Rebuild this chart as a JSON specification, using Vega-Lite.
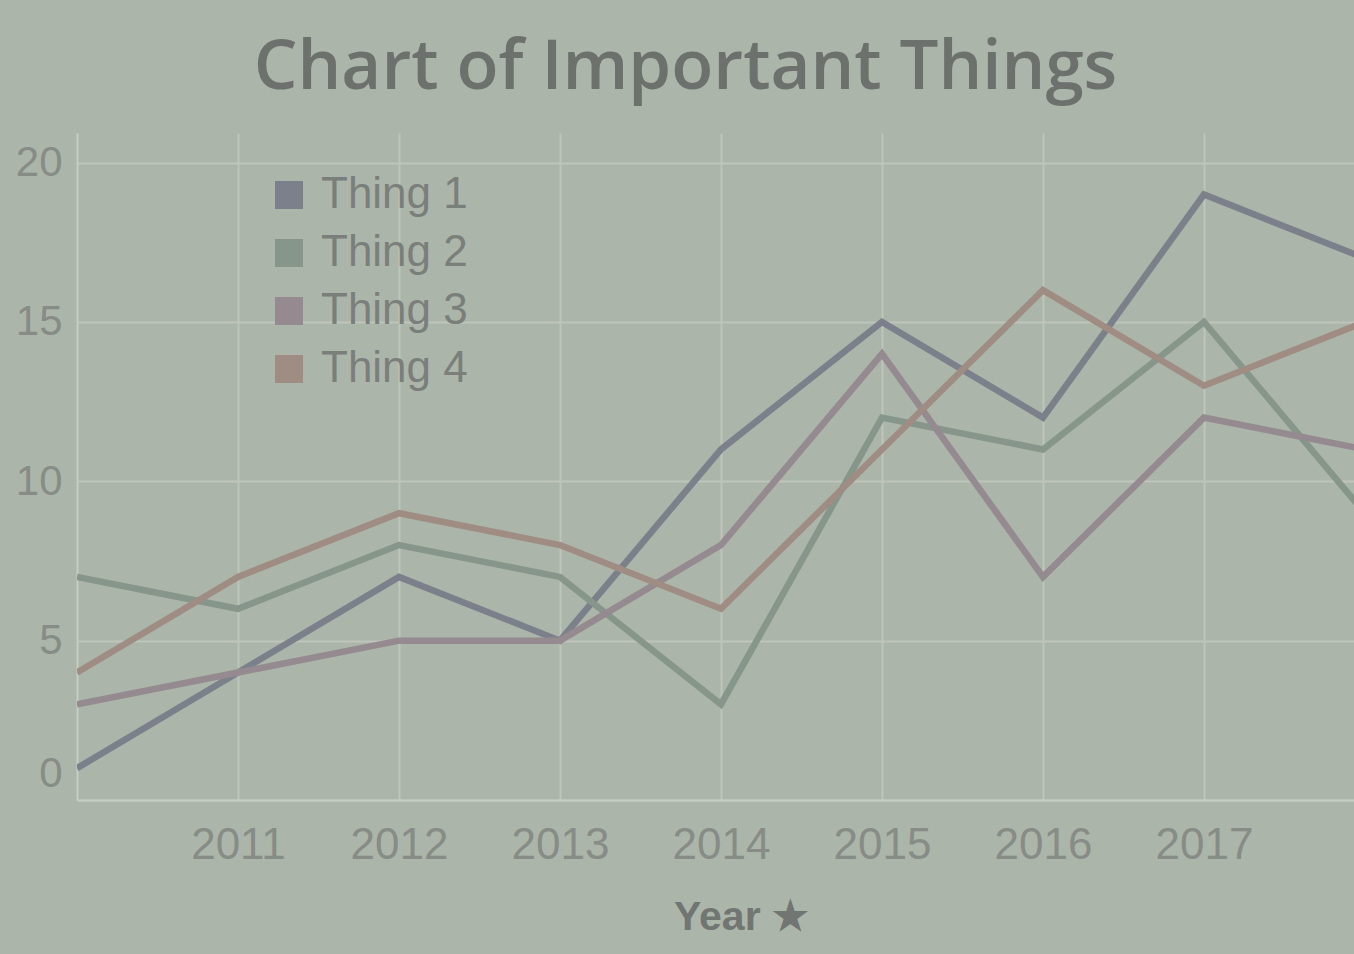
{
  "$schema": "https://vega.github.io/schema/vega-lite/v6.json",
  "width": 1277,
  "height": 667,
  "autosize": {"type": "none"},
  "padding": {"left": 77, "top": 133, "right": 0, "bottom": 154},
  "background": "#acb5a9",
  "title": {
    "text": "Chart of Important Things",
    "font": "Open Sans",
    "fontWeight": 600,
    "fontSize": 69,
    "color": "#6d716d",
    "anchor": "middle",
    "frame": "group",
    "dx": -30,
    "offset": 30
  },
  "data": {
    "values": [
      {"year": 2010, "series": "Thing 1", "value": 1},
      {"year": 2011, "series": "Thing 1", "value": 4},
      {"year": 2012, "series": "Thing 1", "value": 7},
      {"year": 2013, "series": "Thing 1", "value": 5},
      {"year": 2014, "series": "Thing 1", "value": 11},
      {"year": 2015, "series": "Thing 1", "value": 15},
      {"year": 2016, "series": "Thing 1", "value": 12},
      {"year": 2017, "series": "Thing 1", "value": 19},
      {"year": 2018, "series": "Thing 1", "value": 17},
      {"year": 2010, "series": "Thing 2", "value": 7},
      {"year": 2011, "series": "Thing 2", "value": 6},
      {"year": 2012, "series": "Thing 2", "value": 8},
      {"year": 2013, "series": "Thing 2", "value": 7},
      {"year": 2014, "series": "Thing 2", "value": 3},
      {"year": 2015, "series": "Thing 2", "value": 12},
      {"year": 2016, "series": "Thing 2", "value": 11},
      {"year": 2017, "series": "Thing 2", "value": 15},
      {"year": 2018, "series": "Thing 2", "value": 9},
      {"year": 2010, "series": "Thing 3", "value": 3},
      {"year": 2011, "series": "Thing 3", "value": 4},
      {"year": 2012, "series": "Thing 3", "value": 5},
      {"year": 2013, "series": "Thing 3", "value": 5},
      {"year": 2014, "series": "Thing 3", "value": 8},
      {"year": 2015, "series": "Thing 3", "value": 14},
      {"year": 2016, "series": "Thing 3", "value": 7},
      {"year": 2017, "series": "Thing 3", "value": 12},
      {"year": 2018, "series": "Thing 3", "value": 11},
      {"year": 2010, "series": "Thing 4", "value": 4},
      {"year": 2011, "series": "Thing 4", "value": 7},
      {"year": 2012, "series": "Thing 4", "value": 9},
      {"year": 2013, "series": "Thing 4", "value": 8},
      {"year": 2014, "series": "Thing 4", "value": 6},
      {"year": 2015, "series": "Thing 4", "value": 11},
      {"year": 2016, "series": "Thing 4", "value": 16},
      {"year": 2017, "series": "Thing 4", "value": 13},
      {"year": 2018, "series": "Thing 4", "value": 15}
    ]
  },
  "mark": {"type": "line", "strokeWidth": 6.5, "clip": true},
  "encoding": {
    "x": {
      "field": "year",
      "type": "quantitative",
      "scale": {"domain": [2010, 2017.932], "nice": false, "zero": false},
      "axis": {
        "title": "Year ★",
        "values": [2011, 2012, 2013, 2014, 2015, 2016, 2017],
        "format": "d",
        "grid": true,
        "gridColor": "#bec6bb",
        "gridWidth": 2,
        "domain": true,
        "domainColor": "#c6cdc3",
        "domainWidth": 2,
        "ticks": false,
        "labelFont": "Liberation Sans",
        "labelFontSize": 44,
        "labelColor": "#878c86",
        "labelPadding": 23,
        "titleFont": "Liberation Sans",
        "titleFontSize": 41,
        "titleFontWeight": "bold",
        "titleColor": "#727672",
        "titlePadding": 30,
        "titleX": 664
      }
    },
    "y": {
      "field": "value",
      "type": "quantitative",
      "scale": {"domain": [0, 20.93], "nice": false},
      "axis": {
        "title": null,
        "values": [0, 5, 10, 15, 20],
        "grid": true,
        "gridColor": "#bec6bb",
        "gridWidth": 2,
        "domain": true,
        "domainColor": "#c6cdc3",
        "domainWidth": 2,
        "ticks": false,
        "labelFont": "Liberation Sans",
        "labelFontSize": 42,
        "labelColor": "#878c86",
        "labelPadding": 15,
        "labelOffset": {"condition": {"test": "datum.value === 0", "value": -27}, "value": 0}
      }
    },
    "color": {
      "field": "series",
      "type": "nominal",
      "scale": {
        "domain": ["Thing 1", "Thing 2", "Thing 3", "Thing 4"],
        "range": ["#7b808a", "#86968a", "#948a8f", "#9f8d83"]
      },
      "legend": {
        "title": null,
        "orient": "none",
        "legendX": 190,
        "legendY": 40,
        "symbolType": "square",
        "symbolSize": 784,
        "labelFont": "Liberation Sans",
        "labelFontSize": 44,
        "labelColor": "#7b7f7b",
        "labelOffset": 10,
        "rowPadding": 14,
        "labelLimit": 400,
        "encode": {
          "symbols": {
            "update": {
              "fill": {"scale": "color", "field": "value"},
              "fillOpacity": {"value": 1},
              "strokeWidth": {"value": 0},
              "opacity": {"value": 1}
            }
          }
        }
      }
    }
  },
  "config": {
    "view": {"stroke": null}
  }
}
